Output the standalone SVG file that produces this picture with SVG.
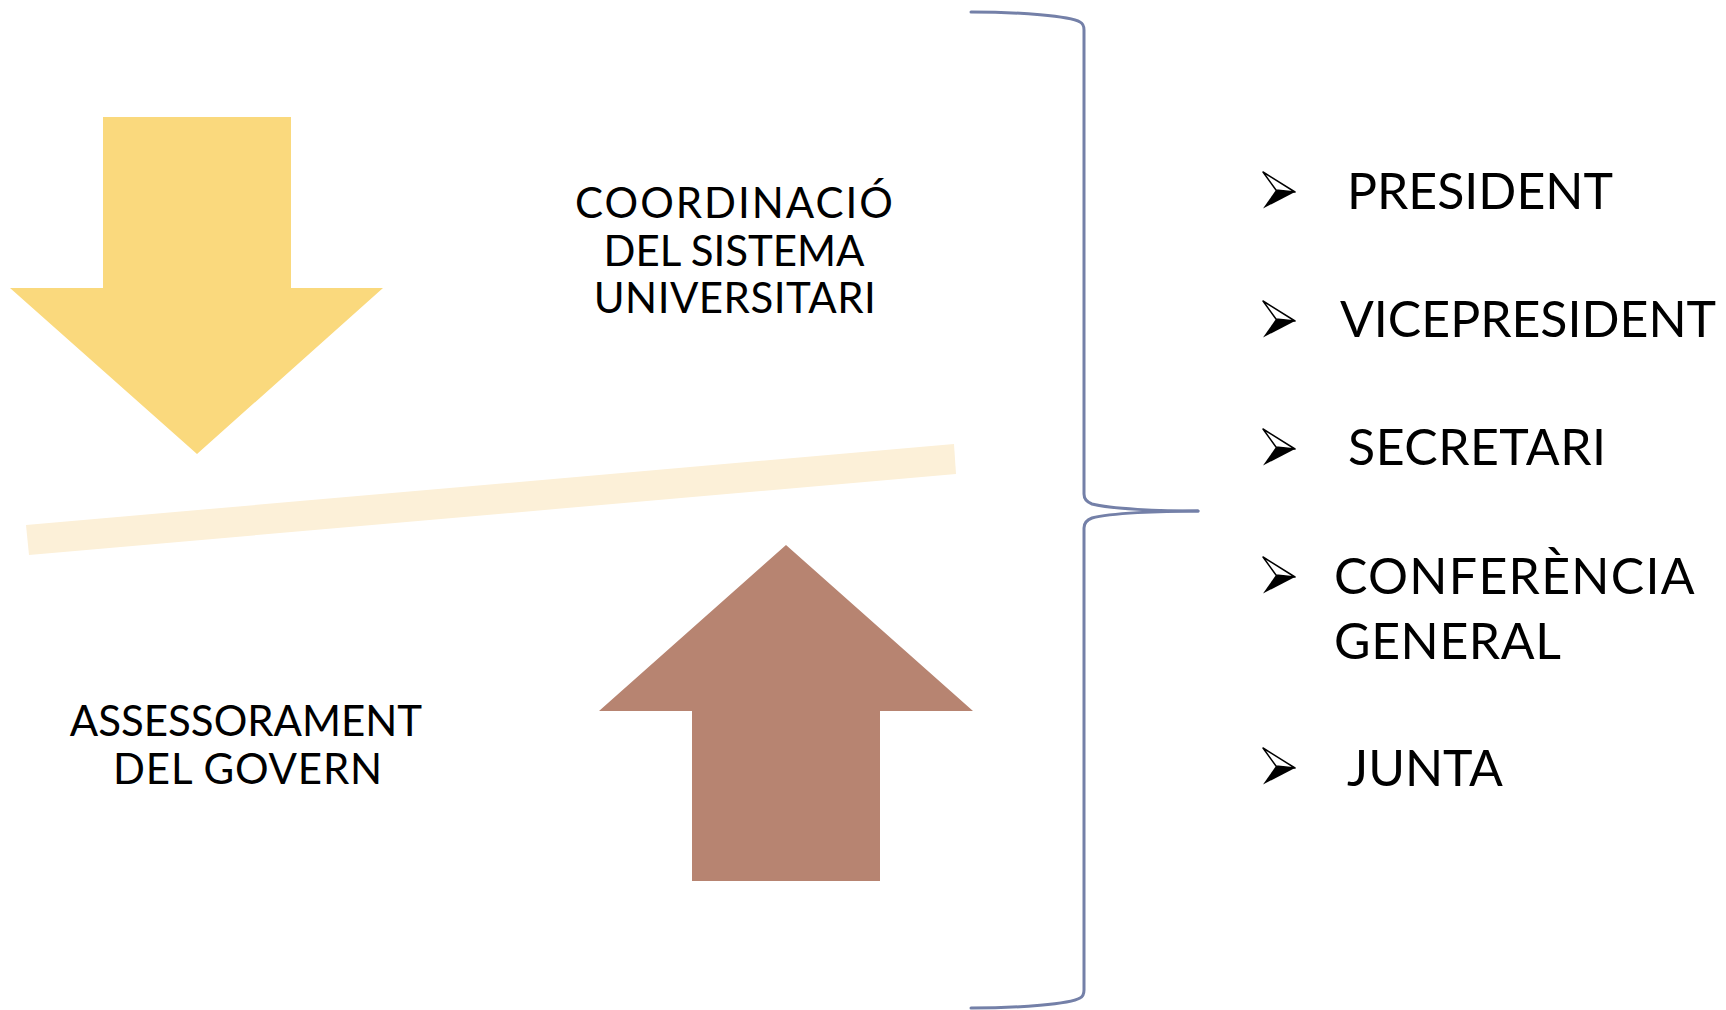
<svg xmlns="http://www.w3.org/2000/svg" width="1726" height="1010" viewBox="0 0 1726 1010">
<style>
.t{font-family:Lato,"Liberation Sans",sans-serif;fill:#000}
.l{font-size:42px;text-anchor:middle}
.r{font-size:50px}
.brace{fill:none;stroke:#7480A8;stroke-width:3;stroke-linecap:round}
</style>
<defs>
<g id="bul">
<polygon points="0,0 32,20 13,18" fill="#fff" stroke="#000" stroke-width="1.5" stroke-linejoin="round"/>
<polygon points="13,18 32,20 0,36.5" fill="#000"/>
</g>
</defs>
<rect width="1726" height="1010" fill="#fff"/>
<g id="band"><polygon points="26,525 954,444 956,474 29,555" fill="#FCF0D8"/></g>
<g id="arrow-down"><polygon points="103,117 291,117 291,288 383,288 197,454 10,288 103,288" fill="#FAD97D"/></g>
<g id="arrow-up"><polygon points="786,545 973,711 880,711 880,881 692,881 692,711 599,711" fill="#B78471"/></g>
<g id="coordinacio">
<text class="t l" x="735" y="218" letter-spacing="2">COORDINACIÓ</text>
<text class="t l" x="734" y="266">DEL SISTEMA</text>
<text class="t l" x="735" y="313" letter-spacing="0.5">UNIVERSITARI</text>
</g>
<g id="assessorament">
<text class="t l" x="246" y="736">ASSESSORAMENT</text>
<text class="t l" x="248" y="784" letter-spacing="0.8">DEL GOVERN</text>
</g>
<g id="connectors">
<path class="brace" d="M971,12 C1020,12 1070,16 1080,22 Q1084,24 1084,30 L1084,494 Q1084,501 1092,504 C1110,509 1160,511 1198,511"/>
<path class="brace" d="M1198,511 C1160,511 1110,513 1092,518 Q1084,521 1084,528 L1084,990 Q1084,996 1080,998 C1070,1004 1020,1008 971,1008"/>
</g>
<g id="president"><use href="#bul" x="1263" y="172"/><text class="t r" x="1347" y="209">PRESIDENT</text></g>
<g id="vicepresident"><use href="#bul" x="1263" y="301"/><text class="t r" x="1340" y="337">VICEPRESIDENT</text></g>
<g id="secretari"><use href="#bul" x="1263" y="429"/><text class="t r" x="1348" y="465" letter-spacing="0.5">SECRETARI</text></g>
<g id="conferencia"><use href="#bul" x="1263" y="557"/><text class="t r" x="1334" y="594" letter-spacing="1.3">CONFERÈNCIA</text><text class="t r" x="1334" y="659" letter-spacing="0.6">GENERAL</text></g>
<g id="junta"><use href="#bul" x="1263" y="748"/><text class="t r" x="1347" y="786">JUNTA</text></g>
</svg>
